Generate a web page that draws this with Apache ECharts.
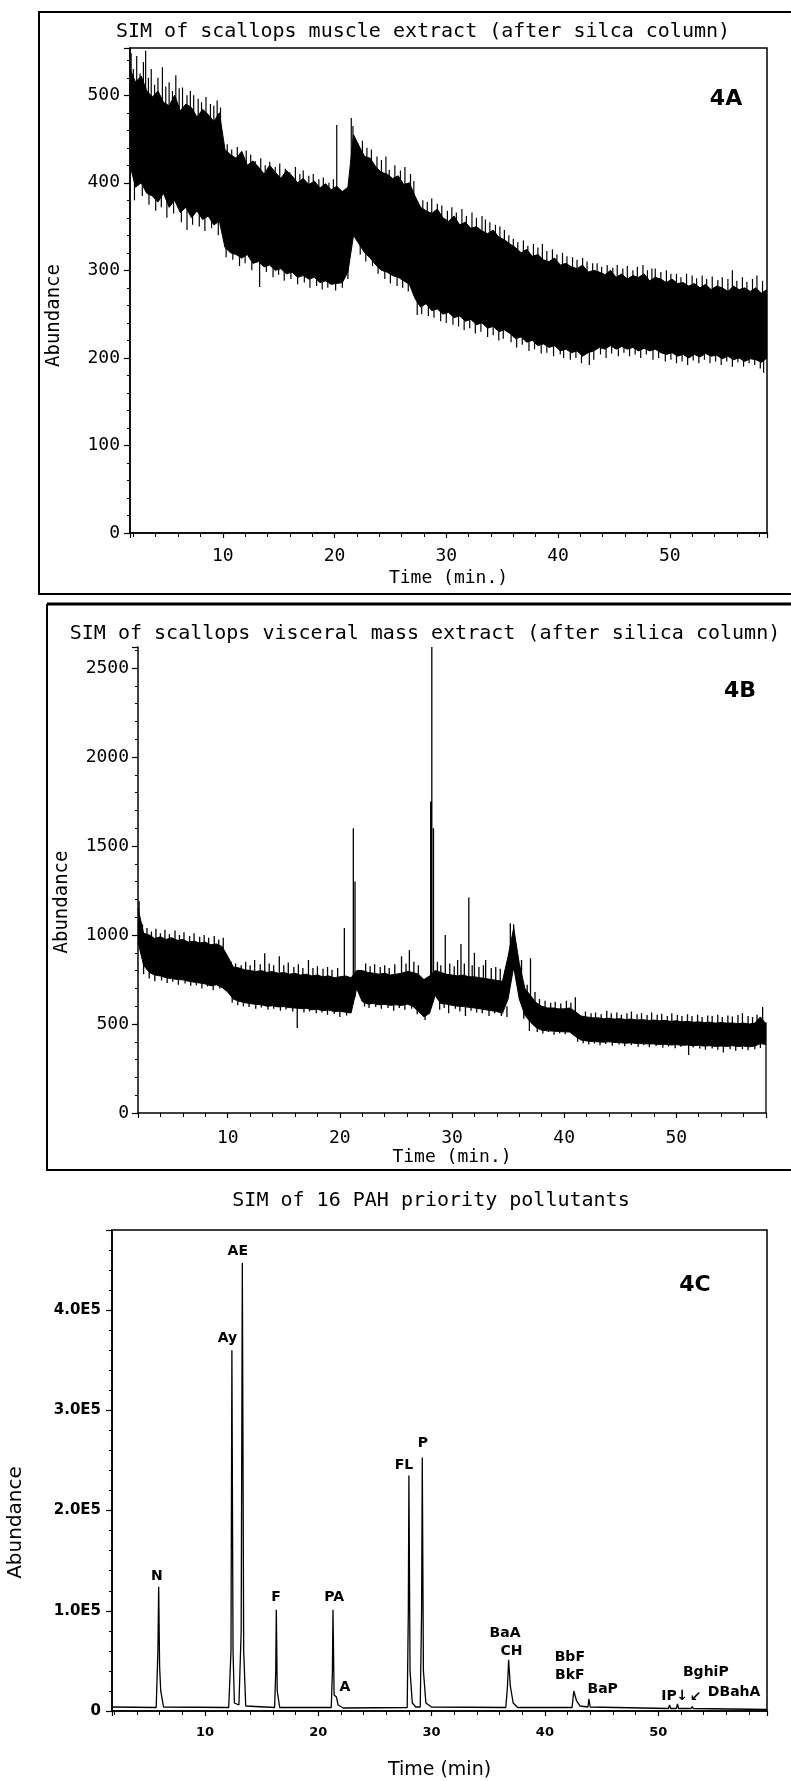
<!DOCTYPE html>
<html><head><meta charset="utf-8">
<script src="https://cdn.jsdelivr.net/npm/echarts@6/dist/echarts.min.js"></script>
<style>html,body{margin:0;padding:0;background:#fff}#c{width:791px;height:1781px}</style>
</head><body><div id="c"></div>
<script>
// ---------------- DATA ----------------
// Panel 4A: envelope of the noisy trace, sampled every 0.5 min from 1.7 min
const A_T0 = 1.7, A_DT = 0.5;
const upperA = [530,515,522,505,
  498,505,492,488,500,482,490,486,475,484,478,470,480,
  438,432,428,436,420,425,418,410,420,412,405,414,408,400,405,398,402,394,399,392,396,
  390,395,455,442,430,428,418,412,410,405,408,398,400,385,
  372,368,365,370,360,356,362,352,355,348,350,345,342,346,338,335,
  330,326,320,324,316,318,312,310,314,306,308,304,302,306,298,300,
  298,295,300,292,296,290,294,292,296,288,292,290,286,290,285,
  286,282,285,280,284,278,282,280,276,282,278,280,276,280,274,278];
const lowerA = [420,395,400,388,
  385,378,388,372,380,366,372,360,368,358,362,352,356,
  326,320,318,314,318,308,310,304,306,300,302,296,298,292,294,290,292,286,288,284,285,
  286,298,340,330,320,314,306,300,298,294,292,288,284,268,
  258,262,254,256,250,252,246,248,242,244,238,240,234,236,230,232,
  228,222,224,218,220,214,216,212,214,208,210,206,208,202,206,208,
  212,210,214,210,213,210,212,208,211,208,210,206,204,206,202,
  204,200,204,201,205,202,203,199,202,198,200,196,199,198,195,200];
// thin noise spikes: [time, from, to]
const spikesA = [
  [1.8,480,548],[2.0,480,530],[2.3,470,545],[2.6,470,525],[2.9,470,538],[3.1,480,551],[3.35,460,520],[3.6,460,530],
  [3.9,460,512],[4.2,460,520],[4.6,460,532],[4.9,450,510],[5.2,450,515],[5.5,450,505],[5.8,450,523],[6.1,450,508],
  [6.4,450,509],[6.8,440,500],[7.1,440,505],[7.4,440,500],[7.8,440,496],[8.1,440,492],[8.5,440,498],[8.9,440,490],
  [9.2,430,488],[9.5,430,494],[9.8,430,486],
  [10.4,400,444],[10.8,400,438],[11.3,400,441],[11.7,400,430],[12.1,400,437],[12.5,395,432],[12.9,390,425],[13.4,390,428],
  [13.8,385,420],[14.2,385,424],[14.7,380,418],[15.1,380,422],[15.6,375,416],[16.0,375,412],[16.5,375,418],[16.9,370,410],
  [17.2,370,414],[17.7,370,408],[18.1,365,410],[18.6,365,404],[19.0,360,406],[19.5,360,400],[19.9,360,404],
  [20.2,380,466],[21.5,400,474],[21.65,420,465],
  [22.1,400,445],[22.5,400,448],[22.9,395,440],[23.3,390,438],[23.8,385,430],[24.2,380,426],[24.6,380,430],[24.9,380,415],
  [25.4,375,420],[25.9,370,414],[26.3,370,418],[26.8,365,410],[27.1,360,402],
  [27.9,340,380],[28.3,340,378],[28.7,335,382],[29.2,335,376],[29.6,330,374],[30.1,330,368],[30.5,330,372],[30.9,325,366],
  [31.4,325,370],[31.8,320,362],[32.3,320,366],[32.7,315,360],[33.2,315,362],[33.5,315,358],[33.9,310,355],[34.4,310,352],
  [34.8,305,350],[35.2,305,346],
  [35.6,300,340],[36.0,300,336],[36.4,295,332],[36.9,295,334],[37.3,290,328],[37.8,290,330],[38.2,285,326],[38.6,285,330],
  [39.0,280,322],[39.5,280,324],[39.9,280,318],[40.4,275,320],[40.8,275,316],[41.3,270,315],[41.7,270,312],[42.2,270,314],
  [42.6,265,310],[43.1,265,308],
  [43.5,265,308],[43.9,265,304],[44.4,265,306],[44.9,260,303],[45.3,260,306],[45.8,260,302],[46.2,260,305],[46.7,260,300],
  [47.1,258,304],[47.6,258,306],[48.0,258,300],[48.4,258,302],[48.7,258,302],[49.2,255,298],[49.7,255,300],[50.1,255,296],
  [50.6,250,296],[51.0,250,292],[51.5,250,296],[52.0,250,294],[52.4,248,291],[52.9,248,294],[53.3,248,290],[53.8,248,293],
  [54.3,245,289],[54.7,245,292],[55.2,245,290],[55.6,245,300],[56.0,245,288],[56.5,245,292],[56.9,245,287],[57.4,245,290],
  [57.8,245,294],[58.3,245,288],
  [2.1,380,420],[2.8,385,420],[3.4,375,410],[4.0,368,400],[4.5,372,400],[5.0,360,400],[5.6,365,400],[6.3,355,390],
  [6.8,346,380],[7.3,352,390],[7.9,350,385],[8.4,345,380],[9.0,348,380],[9.6,340,375],
  [10.3,315,350],[10.9,312,340],[11.5,305,340],[12.0,308,340],[12.6,300,335],[13.3,281,320],[13.9,298,330],[14.5,292,325],
  [15.0,295,325],[15.5,288,320],[16.1,290,320],[16.7,284,315],[17.3,286,315],[17.8,280,312],[18.4,282,312],[18.9,278,310],
  [19.4,280,310],[20.1,277,305],
  [20.7,280,310],[21.2,290,320],[22.3,318,345],[22.8,310,340],[23.4,305,335],[23.9,296,325],[24.5,290,320],[25.0,285,318],
  [25.6,282,315],[26.1,280,312],[26.6,276,305],[27.4,249,290],
  [27.8,250,285],[28.4,248,280],[28.9,246,278],[29.5,242,275],[30.0,240,275],[30.6,238,270],[31.1,236,268],[31.6,232,265],
  [32.1,234,265],[32.6,228,260],[33.1,230,262],[33.7,224,255],[34.2,226,258],[34.7,220,252],[35.1,222,255],
  [35.8,218,250],[36.3,212,245],[36.8,215,245],[37.4,208,240],[37.9,210,240],[38.5,205,238],[39.0,206,236],[39.6,202,232],
  [40.2,204,232],[40.5,200,230],[41.1,198,228],[41.6,200,228],[42.1,194,225],[42.8,192,222],[43.2,198,225],
  [43.8,204,232],[44.3,200,230],[44.8,205,232],[45.4,202,230],[45.9,206,232],[46.4,202,230],[46.9,204,230],[47.4,200,228],
  [47.9,204,230],[48.5,198,228],[49.0,200,228],[49.6,196,225],[50.1,198,225],[50.6,194,222],
  [51.1,196,222],[51.6,192,220],[52.1,197,222],[52.6,194,220],[53.1,198,222],[53.6,194,220],[54.1,196,222],[54.6,192,220],
  [55.1,196,222],[55.6,190,218],[56.1,195,220],[56.6,190,218],[57.1,194,220],[57.6,192,218],[58.1,188,215],[58.4,183,215]];

// Panel 4B: envelope sampled every 0.5 min from 2.0 min
const B_T0 = 2.0, B_DT = 0.5;
const upperB = [1150,1010,1000,980,990,975,985,970,975,960,
  965,955,960,945,950,935,880,820,815,805,
  800,795,800,790,795,785,790,780,785,775,
  780,770,775,765,770,760,765,770,760,800,
  800,790,785,780,785,775,780,785,795,790,
  780,750,770,800,790,780,775,770,775,765,
  765,760,755,750,745,740,880,1040,840,700,
  660,620,600,590,590,585,585,590,570,545,
  540,535,535,530,532,528,530,525,528,522,
  525,520,522,518,520,515,518,512,515,510,
  512,508,510,505,508,505,506,502,505,500,
  505,540,500];
const lowerB = [960,830,790,775,770,760,755,750,748,740,
  735,730,725,715,720,705,680,640,628,620,
  615,610,608,600,602,596,598,592,590,586,
  588,580,582,575,578,570,572,566,562,700,
  625,612,615,608,610,605,608,604,612,600,
  570,540,560,660,615,612,605,600,598,594,
  590,585,580,575,570,560,640,820,640,550,
  510,480,465,462,460,458,456,455,430,410,
  405,402,400,398,400,396,395,392,394,390,
  390,388,388,385,386,382,384,380,382,378,
  380,376,378,374,376,374,378,374,376,372,
  376,390,385];
const spikesB = [
  [2.1,1000,1190],[20.4,760,1040],[21.2,650,1600],[21.35,650,1300],[28.2,700,2618],[28.1,650,1750],[28.35,650,1600],
  [29.4,780,1000],[30.8,760,950],[31.5,760,1210],[32.0,760,900],[35.2,800,1066],[35.5,800,1060],[37.0,620,870],
  [57.7,500,596],[58.0,0,510],
  [2.4,900,1060],[2.8,900,1040],[3.2,880,1020],[3.6,880,1035],[4.0,870,1010],[4.4,870,1030],[4.8,860,1005],[5.3,860,1025],
  [5.7,860,1000],[6.1,850,1015],[6.6,850,995],[7.0,850,1010],[7.5,840,990],[7.9,840,1000],[8.3,840,985],[8.8,830,995],
  [9.2,830,975],[9.6,830,985],
  [10.3,760,850],[10.7,740,840],[11.2,740,830],[11.6,720,850],[12.0,720,830],[12.4,720,860],[12.9,720,835],[13.3,720,897],
  [13.7,710,840],[14.1,710,830],[14.6,710,880],[15.0,700,830],[15.4,700,845],[15.9,700,820],[16.3,690,835],[16.7,690,815],
  [17.2,690,860],[17.6,680,815],[18.0,680,825],[18.5,680,810],[18.9,670,820],[19.3,670,805],[19.8,670,815],
  [22.3,700,840],[22.7,700,825],[23.1,700,835],[23.6,700,820],[24.0,700,830],[24.4,700,815],[24.9,700,835],[25.5,700,880],
  [25.9,700,840],[26.2,700,916],[26.6,700,850],[27.0,690,830],
  [28.7,700,850],[29.0,700,830],[29.8,690,840],[30.2,690,825],[30.5,690,860],[31.1,680,840],[31.8,680,830],[32.4,670,820],
  [32.8,670,830],[33.0,670,860],[33.5,660,815],[33.9,660,820],[34.3,650,810],[34.7,650,800],
  [36.2,650,860],[36.7,600,720],[37.4,560,680],[37.8,540,640],[38.3,520,630],[38.8,520,620],[39.2,520,625],[39.7,520,615],
  [40.2,520,630],[40.6,520,620],[41.0,500,650],
  [41.9,470,570],[42.4,470,560],[42.8,470,565],[43.3,460,555],[43.8,460,575],[44.2,460,560],[44.7,460,565],[45.1,455,552],
  [45.6,455,560],[46.0,455,570],[46.5,450,555],[46.9,450,560],[47.4,450,550],[47.8,450,565],[48.3,445,552],[48.7,445,558],
  [49.2,445,545],[49.6,445,560],[50.1,440,550],[50.5,440,545],[51.0,440,555],[51.4,440,545],[51.9,440,552],[52.3,435,540],
  [52.8,435,548],[53.2,435,545],[53.7,435,552],[54.1,435,540],[54.6,430,548],[55.0,430,542],[55.5,430,550],[55.9,430,560],
  [56.4,430,545],[56.8,430,540],[57.2,430,552],
  [2.5,780,850],[3.0,755,820],[3.5,740,810],[4.1,745,800],[4.6,730,800],[5.1,738,800],[5.6,720,790],[6.2,728,790],
  [6.7,715,780],[7.2,718,780],[7.7,700,775],[8.2,710,770],[8.7,690,765],[9.3,700,760],[9.8,695,750],
  [10.4,620,680],[10.9,605,670],[11.4,600,660],[11.9,596,650],[12.5,585,650],[13.0,592,650],[13.6,580,640],[14.1,586,640],
  [14.7,575,635],[15.2,582,635],[15.8,570,630],[16.2,477,620],[16.8,565,625],[17.3,570,625],[17.9,560,620],[18.4,565,620],
  [18.9,552,615],[19.5,556,610],[20.0,540,605],[20.6,548,600],
  [22.2,598,650],[22.6,590,645],[23.2,596,650],[23.7,585,645],[24.3,590,645],[24.8,575,640],[25.3,590,645],[25.8,580,640],
  [26.4,585,645],[26.9,555,620],[27.6,522,580],
  [28.9,580,640],[29.3,590,650],[29.7,560,640],[30.3,585,640],[30.7,570,630],[31.2,545,620],[31.7,575,630],[32.2,565,625],
  [32.7,560,620],[33.3,545,615],[33.8,560,620],[34.4,545,610],[34.9,540,600],
  [36.4,530,600],[36.9,460,540],[37.6,455,520],[38.1,446,500],[38.6,455,500],[39.1,440,500],[39.6,448,500],[40.1,442,500],
  [40.7,450,500],[41.2,400,460],
  [41.7,392,440],[42.2,385,440],[42.7,390,440],[43.2,380,435],[43.7,388,435],[44.3,378,430],[44.9,385,430],[45.4,375,428],
  [46.0,382,428],[46.6,372,425],[47.1,380,425],[47.6,370,422],[48.2,376,422],[48.8,366,420],[49.3,374,420],[49.9,364,418],
  [50.4,372,418],[51.1,326,415],[51.5,368,415],[52.1,362,412],[52.6,355,410],[53.2,362,412],[53.7,356,410],[54.2,340,405],
  [54.8,358,410],[55.3,350,408],[55.9,360,410],[56.4,352,408],[57.0,358,410],[57.5,365,412]];

// Panel 4C: chromatogram of 16 PAH standards
const timeC = [1.8,5.7,5.85,5.92,6.0,6.1,6.35,
  12.1,12.3,12.38,12.48,12.6,13.0,13.2,13.3,13.42,13.6,
  16.15,16.25,16.3,16.38,16.6,
  21.15,21.25,21.3,21.4,21.6,21.75,22.2,
  27.85,27.95,28.0,28.1,28.3,28.6,29.0,29.12,29.18,29.28,29.5,30.0,
  36.55,36.7,36.8,36.95,37.2,37.6,
  42.4,42.55,42.65,42.8,43.1,43.8,43.88,44.0,
  50.9,51.0,51.1,51.6,51.7,51.8,52.9,53.0,53.1,59.6];
const abundC = [4000,3500,60000,124000,45000,20000,4000,
  3500,60000,360000,60000,8000,6000,80000,447000,60000,5000,
  3500,40000,101000,20000,3500,
  3500,40000,101000,16000,14000,6000,3000,
  3500,100000,235000,40000,8000,4000,4000,100000,253000,40000,8000,4000,
  3500,25000,51000,25000,8000,3500,
  3500,20000,21000,10000,5000,4000,12000,4000,
  2500,6000,2500,2500,7000,2500,2500,4500,2500,1500];
const peakNames = ['N','Ay','AE','F','PA','A','FL','P','BaA','CH','BbF','BkF','BaP','IP','\u2193','BghiP','\u2199','DBahA'];
const peakLabelT = [5.76,11.99,12.9,16.27,21.4,22.36,27.56,29.24,36.48,37.05,42.2,42.2,45.1,50.95,52.1,54.2,53.3,56.7];
const peakLabelV = [134000,372000,459000,113000,113000,24000,245000,267000,77000,60000,54000,36000,22000,15000,15000,39000,14000,19000];

// ---------------- BUILD ----------------
const MONO = "'DejaVu Sans Mono', monospace";
const SANS = "'DejaVu Sans', sans-serif";
function onGrid(vals, t0, dt){ return vals.map((v,i)=>[+(t0+i*dt).toFixed(3), v]); }
function spikes(list){ const o=[]; list.forEach(s=>{o.push([s[0],s[1]]);o.push([s[0],s[2]]);o.push([s[0],null]);}); return o; }

const black = '#000';
function xAx(gi, min, max, font, size, weight, margin, name, nameGap, nameSize){
  return {gridIndex:gi, type:'value', min:min, max:max, splitNumber:6, z:8,
    axisLine:{show:true, onZero:false, lineStyle:{color:black, width:1.5}},
    axisTick:{show:true, length:5, lineStyle:{color:black, width:1.2}},
    minorTick:{show:true, splitNumber:5, length:4, lineStyle:{color:black, width:1}},
    splitLine:{show:false}, minorSplitLine:{show:false},
    axisLabel:{showMinLabel:false, showMaxLabel:false, color:black, fontFamily:font, fontSize:size, fontWeight:weight, margin:margin},
    name:name, nameLocation:'middle', nameGap:nameGap,
    nameTextStyle:{color:black, fontFamily:font, fontSize:nameSize}};
}
function yAx(gi, max, font, size, weight, margin, nameGap, nameSize, pad, fmt){
  return {gridIndex:gi, type:'value', min:0, max:max, splitNumber:5, z:8,
    axisLine:{show:true, onZero:false, lineStyle:{color:black, width:1.5}},
    axisTick:{show:true, length:6, lineStyle:{color:black, width:1.2}},
    minorTick:{show:true, splitNumber:5, length:3, lineStyle:{color:black, width:1}},
    splitLine:{show:false}, minorSplitLine:{show:false},
    axisLabel:{showMaxLabel:false, color:black, fontFamily:font, fontSize:size, margin:margin,
      fontWeight:weight, formatter: fmt},
    name:'Abundance', nameLocation:'middle', nameGap:nameGap, nameRotate:90,
    nameTextStyle:{color:black, fontFamily:font, fontSize:nameSize, padding:[0,pad,0,0]}};
}
const lineBase = {type:'line', symbol:'none', showSymbol:false, smooth:false, silent:true, animation:false,
  lineStyle:{color:black, width:1}, itemStyle:{color:black}};

const option = {
  animation:false,
  backgroundColor:'#fff',
  title:[
    {text:'SIM of scallops muscle extract (after silca column)', left:418, top:17, textAlign:'center',
      textStyle:{fontFamily:MONO, fontSize:20, fontWeight:'normal', color:black}},
    {text:'SIM of scallops visceral mass extract (after silica column)', left:420, top:619, textAlign:'center',
      textStyle:{fontFamily:MONO, fontSize:20, fontWeight:'normal', color:black}},
    {text:'SIM of 16 PAH priority pollutants', left:426, top:1186, textAlign:'center',
      textStyle:{fontFamily:MONO, fontSize:20, fontWeight:'normal', color:black}}
  ],
  grid:[
    {left:130, top:48, width:637, height:485, show:true, z:8, borderColor:black, borderWidth:1.5, outerBoundsMode:'none'},
    {left:138, top:647, width:628, height:466, outerBoundsMode:'none'},
    {left:112, top:1230, width:655, height:481, show:true, z:8, borderColor:black, borderWidth:1.5, outerBoundsMode:'none'}
  ],
  xAxis:[
    xAx(0, 1.7, 58.7, MONO, 18, 'normal', 14, 'Time (min.)', 36, 18),
    xAx(1, 2.0, 58.0, MONO, 18, 'normal', 16, 'Time (min.)', 35, 18),
    xAx(2, 1.8, 59.6, SANS, 13, 'bold', 15, 'Time (min)', 50, 19)
  ],
  yAxis:[
    yAx(0, 554, MONO, 18, 'normal', 10, 66, 19, 50, v => String(v)),
    yAx(1, 2618, MONO, 18, 'normal', 9, 66, 19, 44, v => String(v)),
    yAx(2, 480000, SANS, 15, 'bold', 11, 86, 20, 104, v => v === 0 ? '0' : (v/1e5).toFixed(1) + 'E5')
  ],
  graphic:[
    {type:'polyline', shape:{points:[[791,12],[39,12],[39,594],[791,594]]}, style:{stroke:black, lineWidth:2, fill:null}},
    {type:'line', shape:{x1:47,y1:604,x2:791,y2:604}, style:{stroke:black, lineWidth:3}},
    {type:'polyline', shape:{points:[[47,604],[47,1170],[791,1170]]}, style:{stroke:black, lineWidth:2, fill:null}},
    {type:'text', x:726, y:99, style:{text:'4A', font:"bold 22px 'DejaVu Sans'", fill:black, textAlign:'center', textVerticalAlign:'middle', align:'center', verticalAlign:'middle'}},
    {type:'text', x:740, y:691, style:{text:'4B', font:"bold 22px 'DejaVu Sans'", fill:black, textAlign:'center', textVerticalAlign:'middle', align:'center', verticalAlign:'middle'}},
    {type:'text', x:695, y:1285, style:{text:'4C', font:"bold 22px 'DejaVu Sans'", fill:black, textAlign:'center', textVerticalAlign:'middle', align:'center', verticalAlign:'middle'}}
  ],
  series:[
    // 4A: band = black fill under upper envelope, white fill under lower envelope
    Object.assign({}, lineBase, {xAxisIndex:0, yAxisIndex:0, data:onGrid(upperA, A_T0, A_DT),
      areaStyle:{color:black, opacity:1, origin:'start'}}),
    Object.assign({}, lineBase, {xAxisIndex:0, yAxisIndex:0, data:onGrid(lowerA, A_T0, A_DT),
      areaStyle:{color:'#fff', opacity:1, origin:'start'}}),
    Object.assign({}, lineBase, {xAxisIndex:0, yAxisIndex:0, data:spikes(spikesA), connectNulls:false, lineStyle:{color:black, width:1.2}}),
    // 4B
    Object.assign({}, lineBase, {xAxisIndex:1, yAxisIndex:1, data:onGrid(upperB, B_T0, B_DT),
      areaStyle:{color:black, opacity:1, origin:'start'}}),
    Object.assign({}, lineBase, {xAxisIndex:1, yAxisIndex:1, data:onGrid(lowerB, B_T0, B_DT),
      areaStyle:{color:'#fff', opacity:1, origin:'start'}}),
    Object.assign({}, lineBase, {xAxisIndex:1, yAxisIndex:1, data:spikes(spikesB), connectNulls:false, lineStyle:{color:black, width:1.3}}),
    // 4C
    Object.assign({}, lineBase, {xAxisIndex:2, yAxisIndex:2, data:timeC.map((t,i)=>[t, abundC[i]]), lineStyle:{color:black, width:1.3},
      markPoint:{silent:true, symbol:'circle', symbolSize:1, itemStyle:{color:'rgba(0,0,0,0)'},
        label:{show:true, position:'inside', color:black, fontFamily:SANS, fontWeight:'bold', fontSize:14},
        data: peakNames.map((n,i)=>({name:n, coord:[peakLabelT[i], peakLabelV[i]], label:{formatter:n}}))}})
  ]
};
const chart = echarts.init(document.getElementById('c'), null, {renderer:'canvas'});
chart.setOption(option);
</script></body></html>
